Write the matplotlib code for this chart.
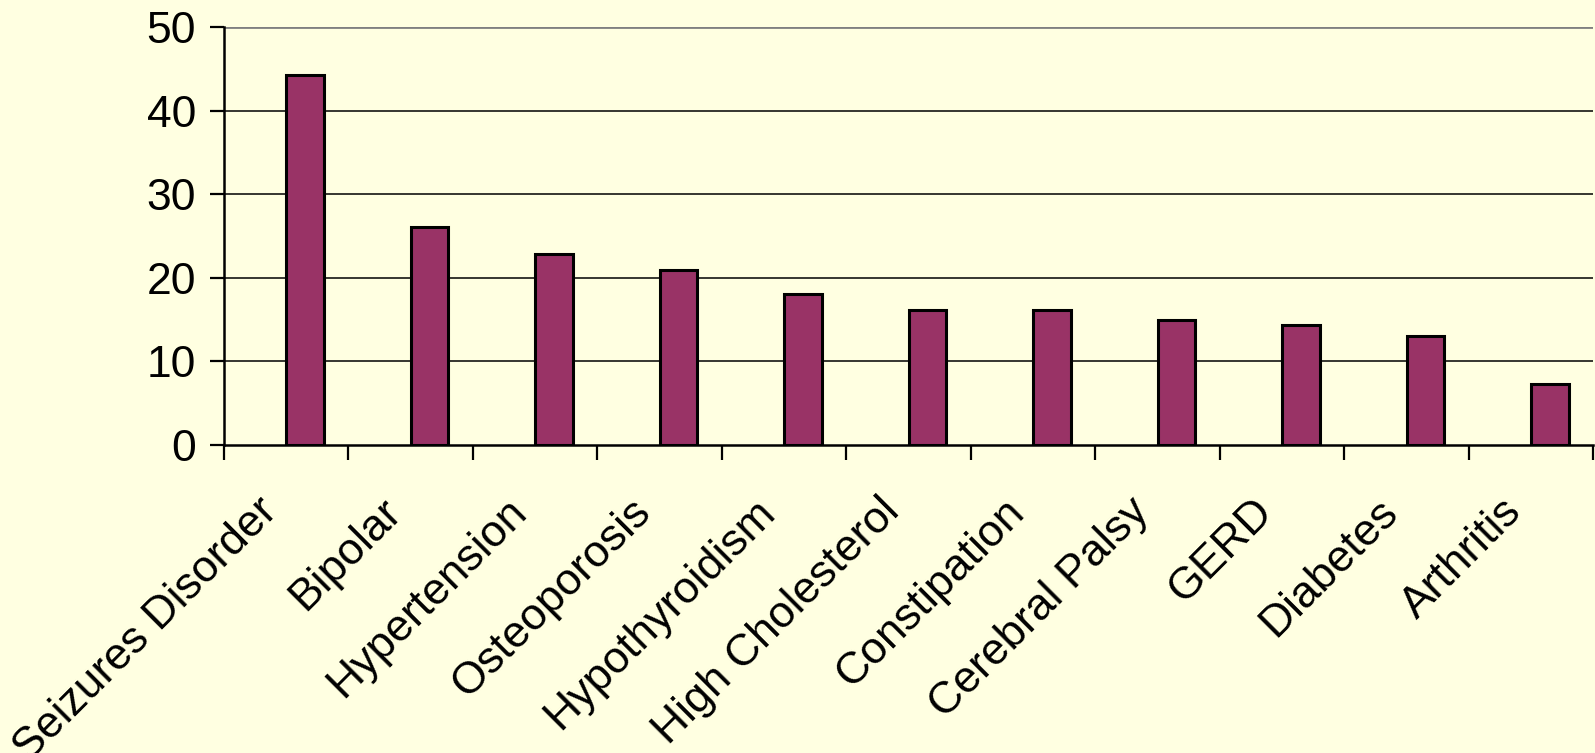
import numpy as np
import matplotlib.pyplot as plt

plt.rcParams['font.family'] = ['Liberation Sans', 'DejaVu Sans']

conditions = ['Seizures Disorder', 'Bipolar', 'Hypertension', 'Osteoporosis',
              'Hypothyroidism', 'High Cholesterol', 'Constipation',
              'Cerebral Palsy', 'GERD', 'Diabetes', 'Arthritis']
percent = [44.3, 26.1, 22.8, 20.9, 18.1, 16.1, 16.1, 14.95, 14.35, 13.0, 7.3]
y_ticks = [0, 10, 20, 30, 40, 50]

bg = '#FFFFE1'
bar_color = '#993366'

fig = plt.figure(figsize=(15.95, 7.53), dpi=100)
fig.patch.set_facecolor(bg)
ax = fig.add_axes([0.1404, 0.409, 0.8586, 0.555])
ax.set_facecolor(bg)

n = len(conditions)
idx = np.arange(n)
# bars start at the middle of each category slot (empty first series in the original)
ax.bar(idx + 0.5, percent, width=0.30, align='edge', color=bar_color,
       edgecolor='black', linewidth=2.2, zorder=3)

ax.set_xlim(0, n)
ax.set_ylim(0, 50)
ax.set_yticks(y_ticks)
ax.set_yticklabels([str(v) for v in y_ticks], fontsize=32)
ax.tick_params(axis='y', length=10, width=1.6, pad=10, color='black')

# gridlines: black, the top one grey
for v in y_ticks[1:]:
    ax.axhline(v, color='black' if v < 50 else '#808080', lw=1.1 if v < 50 else 2.0, zorder=1)

# category boundary ticks (minor), labels on major ticks
ax.set_xticks(np.arange(n + 1), minor=True)
ax.set_xticks(idx + 0.5 - 0.24)
ax.set_xticklabels(conditions, fontsize=32)
ax.tick_params(axis='x', which='minor', length=11, width=1.6, direction='out')
ax.tick_params(axis='x', which='major', length=0, pad=33)
plt.setp(ax.get_xticklabels(), rotation=45, ha='right', va='top', rotation_mode='anchor')

for side in ['top', 'right']:
    ax.spines[side].set_visible(False)
ax.spines['left'].set_linewidth(1.8)
ax.spines['bottom'].set_linewidth(1.8)
ax.spines['left'].set_zorder(4)
ax.spines['bottom'].set_zorder(4)

fig.savefig('out.png', dpi=100, facecolor=bg)
